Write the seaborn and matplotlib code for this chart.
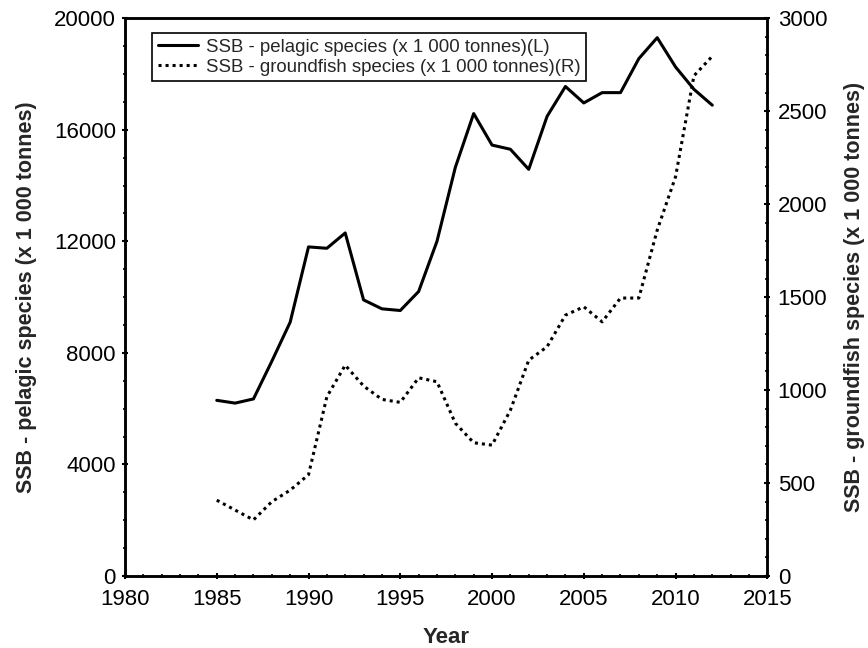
import matplotlib
matplotlib.use("Agg")
import matplotlib.pyplot as plt
from matplotlib.ticker import MultipleLocator
import seaborn as sns
import pandas as pd

years = list(range(1985, 2013))
pelagic = [6300, 6200, 6350, 7700, 9100, 11800, 11750, 12300, 9900, 9580,
           9520, 10200, 12000, 14650, 16580, 15450, 15300, 14580, 16480, 17550,
           16960, 17330, 17330, 18550, 19300, 18250, 17450, 16880]
groundfish = [408, 355, 302, 400, 462, 545, 964, 1134, 1022, 950,
              934, 1066, 1045, 822, 717, 704, 892, 1161, 1233, 1403,
              1448, 1367, 1495, 1495, 1860, 2147, 2690, 2795]

label_l = "SSB - pelagic species (x 1 000 tonnes)(L)"
label_r = "SSB - groundfish species (x 1 000 tonnes)(R)"
ylabel_l = "SSB - pelagic species (x 1 000 tonnes)"
ylabel_r = "SSB - groundfish species (x 1 000 tonnes)"
xlabel = "Year"
xticks = [1980, 1985, 1990, 1995, 2000, 2005, 2010, 2015]
yticks_l = [0, 4000, 8000, 12000, 16000, 20000]
yticks_r = [0, 500, 1000, 1500, 2000, 2500, 3000]

df = pd.DataFrame({"Year": years, "pelagic": pelagic, "groundfish": groundfish})

sns.set_style("white")
plt.rcParams["font.family"] = ["Liberation Sans", "DejaVu Sans"]

fig = plt.figure(figsize=(8.68, 6.48), dpi=100)
ax = fig.add_axes([0.144, 0.111, 0.740, 0.861])
ax2 = ax.twinx()

sns.lineplot(data=df, x="Year", y="pelagic", ax=ax, color="black",
             linewidth=2.2, linestyle="-", label=label_l, legend=False)
sns.lineplot(data=df, x="Year", y="groundfish", ax=ax2, color="black",
             linewidth=2.2, linestyle=(0, (1, 1.3)), label=label_r, legend=False)

ax.set_xlim(1980, 2015)
ax.set_ylim(0, 20000)
ax2.set_ylim(0, 3000)
ax.set_xticks(xticks)
ax.set_yticks(yticks_l)
ax2.set_yticks(yticks_r)
ax.xaxis.set_minor_locator(MultipleLocator(1))
ax.yaxis.set_minor_locator(MultipleLocator(1000))
ax2.yaxis.set_minor_locator(MultipleLocator(100))

fs = 16
ax.tick_params(axis="both", which="major", labelsize=fs, direction="inout",
               length=5, width=1.5, colors="black", left=True, bottom=True)
ax.tick_params(axis="x", which="major", pad=7)
ax.tick_params(axis="y", which="major", pad=4)
ax.tick_params(axis="both", which="minor", direction="inout", length=3,
               width=1.2, colors="black", left=True, bottom=True)
ax2.tick_params(axis="y", which="major", labelsize=fs, direction="inout",
                length=5, width=1.5, colors="black", right=True, pad=5)
ax2.tick_params(axis="y", which="minor", direction="inout", length=3,
                width=1.2, colors="black", right=True)
ax.set_xlabel(xlabel, fontsize=fs, fontweight="bold", labelpad=12)
ax.set_ylabel(ylabel_l, fontsize=15.5, fontweight="bold", labelpad=12)
ax2.set_ylabel(ylabel_r, fontsize=15.5, fontweight="bold", labelpad=12)

for a in (ax, ax2):
    for s in a.spines.values():
        s.set_color("black")
        s.set_linewidth(1.8)

h1, l1 = ax.get_legend_handles_labels()
h2, l2 = ax2.get_legend_handles_labels()
leg = ax.legend(h1 + h2, l1 + l2, loc="upper left", bbox_to_anchor=(0.042, 0.973),
                fontsize=13.4, frameon=True, fancybox=False, framealpha=1,
                edgecolor="black", borderpad=0.3, labelspacing=0.15,
                handlelength=2.2, handletextpad=0.4, borderaxespad=0)
leg.get_frame().set_linewidth(1.2)

fig.savefig("out.png", dpi=100)
